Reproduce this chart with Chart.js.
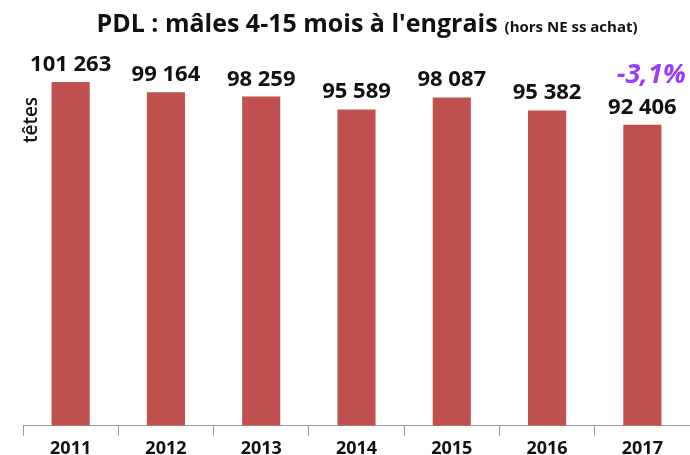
<!DOCTYPE html>
<html>
<head>
<meta charset="utf-8">
<script src="https://cdn.jsdelivr.net/npm/chart.js@4.4.1/dist/chart.umd.min.js"></script>
<style>
  html, body { margin:0; padding:0; background:#fff; }
  #wrap { width:690px; height:455px; position:relative; }
</style>
</head>
<body>
<div id="wrap"><canvas id="c" width="690" height="455"></canvas></div>
<script>
// Data
const years = ['2011','2012','2013','2014','2015','2016','2017'];
const heads = [101263, 99164, 98259, 95589, 98087, 95382, 92406];
const changeLabel = '-3,1%';
const titleMain = "PDL : mâles 4-15 mois à l'engrais";
const titleSub = '(hors NE ss achat)';
const yTitle = 'têtes';

const barRed = '#c0504d';
const axisGrey = '#9a9a9a';
const violet = '#9a3cff';
const FONT = '"Open Sans", "DejaVu Sans", sans-serif';

function fmt(v){ return String(v).replace(/\B(?=(\d{3})+(?!\d))/g, ' '); }

// Custom drawing: title, axis title, value labels, change label
const decor = {
  id: 'decor',
  afterDatasetsDraw(chart){
    const ctx = chart.ctx;
    ctx.save();
    // title
    ctx.fillStyle = '#111';
    ctx.textBaseline = 'alphabetic';
    ctx.font = `bold 25px ${FONT}`;
    const w1 = ctx.measureText(titleMain).width;
    ctx.font = `bold 15px ${FONT}`;
    const w2 = ctx.measureText(titleSub).width;
    const startX = 367 - (w1 + 7 + w2) / 2;
    ctx.font = `bold 25px ${FONT}`;
    ctx.textAlign = 'left';
    ctx.fillText(titleMain, startX, 32);
    ctx.font = `bold 15px ${FONT}`;
    ctx.fillText(titleSub, startX + w1 + 7, 32);

    // y axis title
    ctx.save();
    ctx.translate(37, 120);
    ctx.rotate(-Math.PI / 2);
    ctx.textAlign = 'center';
    ctx.font = `600 19px ${FONT}`;
    ctx.fillText(yTitle, 0, 0);
    ctx.restore();

    // value labels
    const meta = chart.getDatasetMeta(0);
    ctx.textAlign = 'center';
    ctx.font = `bold 22px ${FONT}`;
    ctx.fillStyle = '#111';
    meta.data.forEach((bar, i) => {
      ctx.fillText(fmt(heads[i]), bar.x, bar.y - 11);
    });

    // change label above last bar
    const last = meta.data[meta.data.length - 1];
    ctx.font = `italic bold 27px ${FONT}`;
    ctx.fillStyle = violet;
    ctx.fillText(changeLabel, last.x + 9, 83);
    ctx.restore();
  }
};

new Chart(document.getElementById('c'), {
  type: 'bar',
  data: {
    labels: years,
    datasets: [{
      data: heads,
      backgroundColor: barRed,
      borderWidth: 0,
      categoryPercentage: 0.8,
      barPercentage: 0.5
    }]
  },
  options: {
    responsive: false,
    animation: false,
    layout: { padding: { top: 40, left: 23, right: 0, bottom: -7 } },
    plugins: {
      legend: { display: false },
      tooltip: { enabled: false },
      title: { display: false }
    },
    scales: {
      x: {
        offset: true,
        grid: {
          display: true,
          drawOnChartArea: false,
          offset: true,
          tickLength: 10,
          color: axisGrey
        },
        border: { display: true, color: axisGrey, width: 1 },
        ticks: {
          color: '#111',
          padding: 6,
          font: { family: FONT, size: 18, weight: 'bold', lineHeight: 0.8 }
        }
      },
      y: {
        display: false,
        min: 30000,
        max: 110000
      }
    }
  },
  plugins: [decor]
});
</script>
</body>
</html>
